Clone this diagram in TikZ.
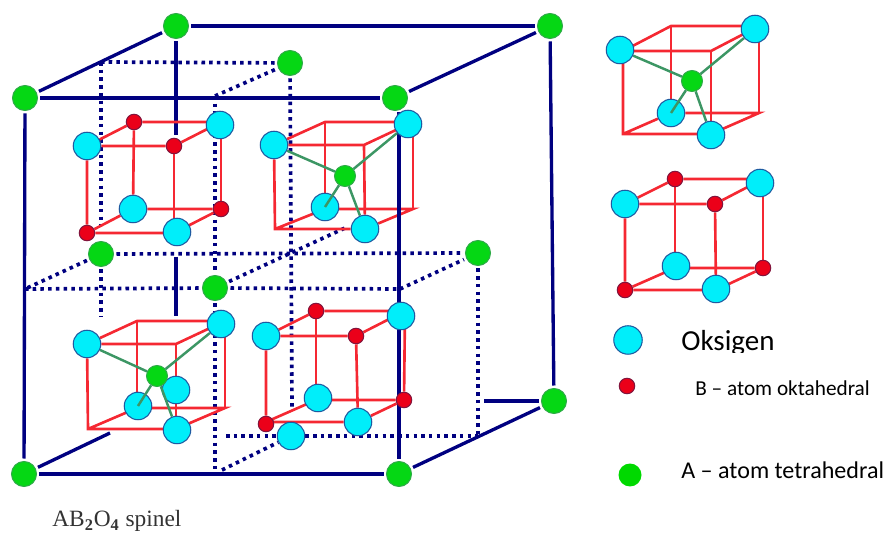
\documentclass[tikz,border=0pt]{standalone}
\usepackage{fontspec}
\setmainfont{Carlito}
\newfontfamily\spinelfont{Liberation Serif}
\usetikzlibrary{backgrounds}

\definecolor{navyline}{RGB}{0,0,128}
\definecolor{redline}{RGB}{245,40,50}
\definecolor{bondline}{RGB}{60,150,100}
\definecolor{oxyfill}{RGB}{0,238,250}
\definecolor{oxyedge}{RGB}{30,90,160}
\definecolor{bfill}{RGB}{235,0,25}
\definecolor{bedge}{RGB}{130,20,60}
\definecolor{afill}{RGB}{5,215,20}
\definecolor{aedge}{RGB}{45,170,70}

\tikzset{
	oxy/.style={circle,draw=oxyedge,fill=oxyfill,line width=0.6pt,minimum size=0.55cm,inner sep=0},
	batom/.style={circle,draw=bedge,fill=bfill,line width=0.6pt,minimum size=0.31cm,inner sep=0},
	corner/.style={circle,draw=aedge,fill=afill,line width=0.6pt,minimum size=0.5cm,inner sep=0,outer sep=0.06cm},
	tetra/.style={circle,draw=aedge,fill=afill,line width=0.6pt,minimum size=0.42cm,inner sep=0},
	frame/.style={navyline,line width=1.9pt},
	hidden/.style={navyline,line width=2.1pt,dash pattern=on 2pt off 2.4pt},
	redcube/.style={redline,line width=1.5pt},
	bond/.style={bondline,line width=1.4pt},
	label/.style={anchor=base west,inner sep=0}
}

\begin{document}
\begin{tikzpicture}[x=0.02cm, y=-0.02cm]

	\useasboundingbox (0,0) rectangle (886,536);

	% large cell
	\node[corner] (tbl) at (176,26) {};
	\node[corner] (tbr) at (550,26) {};
	\node[corner] (tfl) at (25,98) {};
	\node[corner] (tfr) at (395,98) {};
	\node[corner] (bfl) at (24,474) {};
	\node[corner] (bfr) at (399,474) {};
	\node[corner] (bbr) at (554,401) {};
	\node[corner] (mtop) at (290,63) {};
	\node[corner] (mleft) at (101,254) {};
	\node[corner] (mfront) at (215,288) {};
	\node[corner] (mright) at (478,253) {};

	\coordinate (ftop) at (399,112);
	\coordinate (backa) at (176,135);
	\coordinate (backb) at (176,257);
	\coordinate (backc) at (176,316);
	\coordinate (bdiag) at (110,433);
	\coordinate (bback) at (484,401);

	\coordinate (dtl) at (101,62);
	\coordinate (dla) at (101,225);
	\coordinate (dlb) at (101,316);
	\coordinate (dtm) at (215,96);
	\coordinate (dbm) at (215,471);
	\coordinate (dbd) at (222,470);
	\coordinate (dsa) at (292,408);
	\coordinate (dhl) at (25,289);
	\coordinate (dhr) at (400,289);
	\coordinate (dmd) at (345,228);
	\coordinate (dbl) at (226,436);
	\coordinate (dbr) at (478,436);

	% cube with B atoms, top left
	\node[oxy] (aftl) at (87,146) {};
	\node[batom] (aftr) at (174,146) {};
	\node[batom] (abtl) at (134,122) {};
	\node[oxy] (abtr) at (220,125) {};
	\coordinate (abtrc) at (221,122);
	\node[batom] (afbl) at (87,233) {};
	\node[oxy] (afbr) at (177,232) {};
	\coordinate (afbrc) at (174,233);
	\node[oxy] (abbl) at (133,209) {};
	\node[batom] (abbr) at (221,209) {};

	% cube with A atom, top middle
	\node[oxy] (bftl) at (274,145) {};
	\coordinate (bftr) at (364,145);
	\coordinate (bbtl) at (325,122);
	\node[oxy] (bbtr) at (408,124) {};
	\coordinate (bbtrc) at (413,122);
	\coordinate (bfbl) at (275,229);
	\node[oxy] (bfbr) at (365,229) {};
	\node[oxy] (bbbl) at (325,207) {};
	\coordinate (bbblc) at (325,209);
	\coordinate (bbbr) at (413,209);
	\node[tetra] (bcen) at (345,176) {};

	% cube with A atom, lower left
	\node[oxy] (cftl) at (87,344) {};
	\coordinate (cftr) at (176,344);
	\coordinate (cbtl) at (137,321);
	\node[oxy] (cbtr) at (221,324) {};
	\coordinate (cbtrc) at (225,321);
	\coordinate (cfbl) at (88,429);
	\node[oxy] (cfbr) at (177,430) {};
	\coordinate (cfbrc) at (176,429);
	\node[oxy] (cbbl) at (138,406) {};
	\coordinate (cbblc) at (137,408);
	\coordinate (cbbr) at (225,408);
	\node[oxy] (cback) at (176,390) {};
	\node[tetra] (ccen) at (157,376) {};

	% cube with B atoms, lower middle
	\node[oxy] (dftl) at (266,336) {};
	\node[batom] (dftr) at (356,336) {};
	\node[batom] (dbtl) at (316,311) {};
	\node[oxy] (dbtr) at (401,316) {};
	\coordinate (dbtrc) at (405,311);
	\node[batom] (dfbl) at (266,424) {};
	\coordinate (dfblc) at (266,422);
	\node[oxy] (dfbr) at (358,422) {};
	\node[oxy] (dbbl) at (318,398) {};
	\coordinate (dbblc) at (316,400);
	\node[batom] (dbbr) at (404,400) {};
	\node[oxy] (dfree) at (291,436) {};

	% single cube with A atom
	\node[oxy] (eftl) at (620,50) {};
	\coordinate (eftlc) at (623,51);
	\coordinate (eftr) at (711,51);
	\coordinate (ebtl) at (671,26);
	\node[oxy] (ebtr) at (755,29) {};
	\coordinate (ebtrc) at (759,26);
	\coordinate (efbl) at (623,134);
	\node[oxy] (efbr) at (711,135) {};
	\coordinate (efbrc) at (711,134);
	\node[oxy] (ebbl) at (671,113) {};
	\coordinate (ebbr) at (759,113);
	\node[tetra] (ecen) at (692,81) {};

	% single cube with B atoms
	\node[oxy] (fftl) at (625,204) {};
	\node[batom] (fftr) at (715,204) {};
	\node[batom] (fbtl) at (675,179) {};
	\node[oxy] (fbtr) at (760,183) {};
	\coordinate (fbtrc) at (763,179);
	\node[batom] (ffbl) at (625,290) {};
	\node[oxy] (ffbr) at (716,289) {};
	\coordinate (ffbrc) at (716,290);
	\node[oxy] (fbbl) at (676,266) {};
	\coordinate (fbblc) at (675,268);
	\node[batom] (fbbr) at (763,268) {};

	% key
	\node[oxy,minimum size=0.57cm] (keyo) at (628,340) {};
	\node[batom] (keyb) at (627,386) {};
	\node[tetra,draw=none,fill=green!85!black,minimum size=0.46cm] (keya) at (630,475) {};

	\begin{scope}
		\clip (670,320) rectangle (800,353);
		\node[label,font=\fontsize{16.5}{19}\selectfont] (txto) at (681,351) {Oksigen};
	\end{scope}
	\node[label,font=\fontsize{12.1}{14}\selectfont] (txtb) at (695,396) {B -- atom oktahedral};
	\node[label,font=\fontsize{13.7}{16}\selectfont] (txta) at (681,479) {A -- atom tetrahedral};
	\node[label,font=\spinelfont\fontsize{13.3}{16}\selectfont,text=black!80] (txts) at (52,527)
		{AB\textsubscript{\textbf{2}}O\textsubscript{\textbf{4}} spinel};

	\begin{scope}[on background layer]
		\draw[hidden] (dtl) -- (mtop);
		\draw[hidden] (dtl) -- (dla);
		\draw[hidden] (mleft) -- (dlb);
		\draw[hidden] (dtm) -- (mtop);
		\draw[hidden] (dtm) -- (mfront);
		\draw[hidden] (mfront) -- (dbm);
		\draw[hidden] (mtop) -- (dsa);
		\draw[hidden] (mleft) -- (mright);
		\draw[hidden] (mleft) -- (dhl);
		\draw[hidden] (dhl) -- (mfront);
		\draw[hidden] (mfront) -- (dhr);
		\draw[hidden] (mfront) -- (dmd);
		\draw[hidden] (dhr) -- (mright);
		\draw[hidden] (mright) -- (dbr);
		\draw[hidden] (dbl) -- (dfree);
		\draw[hidden] (dfree) -- (dbr);
		\draw[hidden] (dbd) -- (dfree);

		\draw[frame] (tfl) -- (tfr);
		\draw[frame] (tbl) -- (tbr);
		\draw[frame] (tfl) -- (tbl);
		\draw[frame] (tfr) -- (tbr);
		\draw[frame] (tfl) -- (bfl);
		\draw[frame] (bfl) -- (bfr);
		\draw[frame] (bfl) -- (bdiag);
		\draw[frame] (bfr) -- (bbr);
		\draw[frame] (bback) -- (bbr);
		\draw[frame] (tbr) -- (bbr);
		\draw[frame] (tbl) -- (backa);
		\draw[frame] (backb) -- (backc);

		\draw[redcube] (aftl) -- (aftr) -- (abtrc) -- (abtl) -- (aftl) -- (afbl) -- (afbrc) -- (abbr) -- (abbl) -- (afbl);
		\draw[redcube] (aftr) -- (afbrc);
		\draw[redcube] (abtl) -- (abbl);
		\draw[redcube] (abtrc) -- (abbr);

		\draw[redcube] (bftl) -- (bftr) -- (bbtrc) -- (bbtl) -- (bftl) -- (bfbl) -- (bfbr) -- (bbbr) -- (bbblc) -- (bfbl);
		\draw[redcube] (bftr) -- (bfbr);
		\draw[redcube] (bbtl) -- (bbblc);
		\draw[redcube] (bbtrc) -- (bbbr);

		\draw[redcube] (cftl) -- (cftr) -- (cbtrc) -- (cbtl) -- (cftl) -- (cfbl) -- (cfbrc) -- (cbbr) -- (cbblc) -- (cfbl);
		\draw[redcube] (cftr) -- (cfbrc);
		\draw[redcube] (cbtl) -- (cbblc);
		\draw[redcube] (cbtrc) -- (cbbr);

		\draw[redcube] (dftl) -- (dftr) -- (dbtrc) -- (dbtl) -- (dftl) -- (dfbl);
		\draw[redcube] (dfblc) -- (dfbr) -- (dbbr) -- (dbblc) -- (dfblc);
		\draw[redcube] (dftr) -- (dfbr);
		\draw[redcube] (dbtl) -- (dbblc);
		\draw[redcube] (dbtrc) -- (dbbr);

		\draw[redcube] (eftlc) -- (eftr) -- (ebtrc) -- (ebtl) -- (eftlc) -- (efbl) -- (efbrc) -- (ebbr) -- (ebbl) -- (efbl);
		\draw[redcube] (eftr) -- (efbrc);
		\draw[redcube] (ebtl) -- (ebbl);
		\draw[redcube] (ebtrc) -- (ebbr);

		\draw[redcube] (fftl) -- (fftr) -- (fbtrc) -- (fbtl) -- (fftl) -- (ffbl) -- (ffbrc) -- (fbbr) -- (fbblc) -- (ffbl);
		\draw[redcube] (fftr) -- (ffbrc);
		\draw[redcube] (fbtl) -- (fbblc);
		\draw[redcube] (fbtrc) -- (fbbr);

		\draw[frame,line width=2.8pt] (ftop) -- (bfr);

		\draw[bond] (bcen) -- (bftl);
		\draw[bond] (bcen) -- (bbtr);
		\draw[bond] (bcen) -- (bfbr);
		\draw[bond] (ccen) -- (cftl);
		\draw[bond] (ccen) -- (cbtr);
		\draw[bond] (ecen) -- (eftl);
		\draw[bond] (ecen) -- (ebtr);
		\draw[bond] (ecen) -- (efbr);
	\end{scope}

	\draw[bond] (bcen) -- (bbbl.center);
	\draw[bond] (ccen) -- (cbbl.center);
	\draw[bond] (ccen) -- (cfbr);
	\draw[bond] (ecen) -- (ebbl.center);

\end{tikzpicture}
\end{document}
